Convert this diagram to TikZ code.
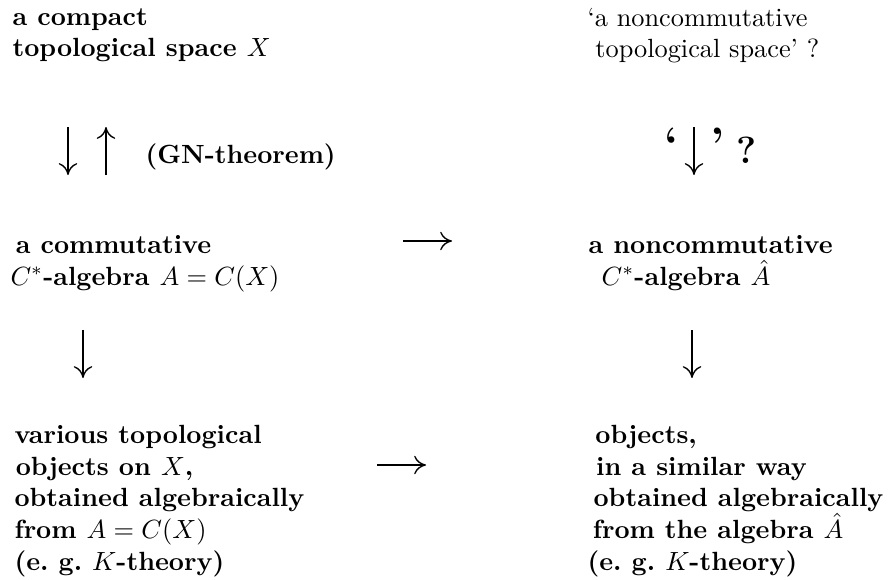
\documentclass[tikz,border=0pt]{standalone}
\usepackage{amsmath}
\usepackage{tikz}
\usetikzlibrary{arrows.meta, positioning, calc}

\begin{document}
\begin{tikzpicture}[
  x=0.38pt, y=-0.38pt,
  blk/.style={align=left, inner sep=0pt, anchor=base west, font=\bfseries},
  plain/.style={align=left, inner sep=0pt, anchor=base west},
  cmarr/.style={-{Computer Modern Rightarrow[length=4.5pt, width=7pt]}, line width=0.5pt}
]
\useasboundingbox (0,0) rectangle (888,579);

% left column (anchor = baseline of the last line)
\node[blk] (space) at (12,57) {a compact\\topological space $X$};
\node[blk] (comm) at (10,285) {\hspace*{2pt}a commutative\\$C^*$-algebra $A=C(X)$};
\node[blk] (objs) at (14,570) {various topological\\\hspace*{0.5pt}objects on $X$,\\obtained algebraically\\from $A=C(X)$\\(e.\ g.\ $K$-theory)};

% right column
\node[plain] (ncspace) at (587,58) {`a noncommutative\\\hspace*{3pt}topological space' ?};
\node[blk] (ncalg) at (588,285) {a noncommutative\\\hspace*{5pt}$C^*$-algebra $\hat{A}$};
\node[blk] (ncobjs) at (587,570) {\hspace*{3pt}objects,\\\hspace*{3.3pt}in a similar way\\\hspace*{2.3pt}obtained algebraically\\\hspace*{2pt}from the algebra $\hat{A}$\\(e.\ g.\ $K$-theory)};

% GN-theorem
\node[blk] (gn) at (145,163) {(GN-theorem)};
\coordinate (gnA) at (68,127);
\coordinate (gnB) at (68,175);
\coordinate (gnC) at (106,175);
\coordinate (gnD) at (106,127);
\draw[cmarr] (gnA) -- (gnB);
\draw[cmarr] (gnC) -- (gnD);

% the questioned arrow
\node[font=\LARGE\bfseries, inner sep=0pt] (oq) at (672,144) {`};
\node[font=\LARGE\bfseries, inner sep=0pt] (cq) at (718,144) {'};
\node[font=\Large\bfseries, inner sep=0pt, anchor=base west] (qm) at (736,163) {?};
\coordinate (qA) at (694,127);
\coordinate (qB) at (694,175);
\draw[cmarr] (qA) -- (qB);

% horizontal arrows
\coordinate (hA) at (403,241);
\coordinate (hB) at (452,241);
\draw[cmarr] (hA) -- (hB);
\coordinate (hC) at (377,465);
\coordinate (hD) at (426,465);
\draw[cmarr] (hC) -- (hD);

% lower vertical arrows
\coordinate (vA) at (83,330);
\coordinate (vB) at (83,378);
\draw[cmarr] (vA) -- (vB);
\coordinate (vC) at (692,330);
\coordinate (vD) at (692,378);
\draw[cmarr] (vC) -- (vD);
\end{tikzpicture}
\end{document}
